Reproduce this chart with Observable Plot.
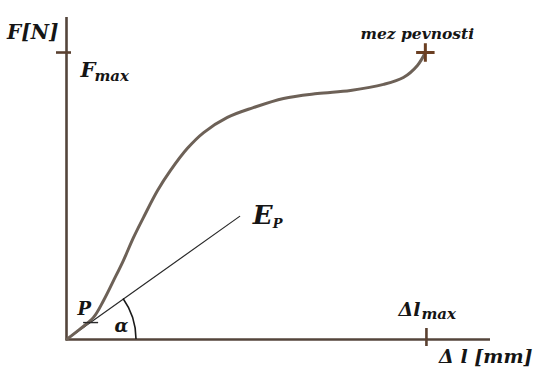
<!DOCTYPE html>
<html>
<head>
<meta charset="utf-8">
<script src="https://cdn.jsdelivr.net/npm/d3@7"></script>
<script src="https://cdn.jsdelivr.net/npm/@observablehq/plot@0.6"></script>
<style>
  html, body { margin: 0; padding: 0; background: #fff; }
  #chart svg { display: block; }
  #chart svg text { font-family: "DejaVu Serif", serif !important; font-weight: bold; font-style: italic; }
</style>
</head>
<body>
<div id="chart"></div>
<script>
// Force–elongation curve (units: Δl_max = 10, F_max = 10)
const curveDl = [0, 0.39, 0.75, 1.03, 1.31, 1.58, 1.86, 2.17, 2.53, 2.89, 3.36, 3.81, 4.47, 5.19, 6.03, 6.97, 7.89, 8.81, 9.36, 9.75, 9.97];
const curveF  = [0, 0.38, 0.77, 1.36, 2.06, 2.75, 3.55, 4.33, 5.19, 5.89, 6.66, 7.21, 7.74, 8.08, 8.40, 8.57, 8.68, 8.89, 9.13, 9.55, 10.0];
// Elastic modulus line E_P
const epDl = [0, 4.81];
const epF  = [0, 4.29];
// Key values
const fMax = 10;
const dlMax = 10;
const pPoint = { dl: 0.67, f: 0.59 };
const xExtent = [0, 11.78];
const yExtent = [0, 11.22];
// Labels
const labelAxisY = "F[N]";
const labelAxisX = "Δ l [mm]";
const labelFmax = ["F", "max"];
const labelDlmax = ["Δl", "max"];
const labelEp = ["E", "P"];
const labelBreak = "mez pevnosti";
const labelP = "P";
const labelAlpha = "α";

const curve = curveDl.map((d, i) => ({ dl: d, f: curveF[i] }));
const ep = epDl.map((d, i) => ({ dl: d, f: epF[i] }));
const last = curve[curve.length - 1];
const epEnd = ep[ep.length - 1];

const font = "DejaVu Serif";
const txt = (extra) => Object.assign({ fontFamily: font, fontWeight: "bold", fontStyle: "italic", fill: "#151515" }, extra);

const arcMark = (index, scales) => {
  const cx = scales.x(0), cy = scales.y(0);
  const ex = scales.x(epEnd.dl), ey = scales.y(epEnd.f);
  const th = Math.atan2(cy - ey, ex - cx);
  const r = 70;
  const path = document.createElementNS("http://www.w3.org/2000/svg", "path");
  path.setAttribute("d", `M${cx + r},${cy} A${r},${r} 0 0 0 ${cx + r * Math.cos(th)},${cy - r * Math.sin(th)}`);
  path.setAttribute("fill", "none");
  path.setAttribute("stroke", "#1a1a1a");
  path.setAttribute("stroke-width", 1.6);
  return path;
};

const chart = Plot.plot({
  width: 533,
  height: 367,
  marginLeft: 66,
  marginRight: 43,
  marginTop: 17,
  marginBottom: 28,
  x: { domain: xExtent, axis: null },
  y: { domain: yExtent, axis: null },
  marks: [
    Plot.ruleX([0], { stroke: "#54453b", strokeWidth: 2.6 }),
    Plot.ruleY([0], { stroke: "#54453b", strokeWidth: 2.6 }),
    Plot.ruleY([fMax], { x1: 0, x2: 0, insetLeft: -10, insetRight: -5, stroke: "#5a4030", strokeWidth: 2.6 }),
    Plot.ruleX([dlMax], { y1: 0, y2: 0, insetTop: -11, insetBottom: -7, stroke: "#5a4030", strokeWidth: 2.6 }),
    Plot.line(ep, { x: "dl", y: "f", stroke: "#2a2a2a", strokeWidth: 1.2 }),
    arcMark,
    Plot.line(curve, { x: "dl", y: "f", curve: "catmull-rom", stroke: "#6d6157", strokeWidth: 3 }),
    Plot.ruleY([pPoint.f], { x1: pPoint.dl, x2: pPoint.dl, insetLeft: -7, insetRight: -8, stroke: "#2a2a2a", strokeWidth: 1.4 }),
    Plot.dot([last], { x: "dl", y: "f", symbol: "plus", r: 6, stroke: "#6b3f22", strokeWidth: 3 }),
    Plot.text([labelAxisY], txt({ x: 0, y: yExtent[1], text: d => d, textAnchor: "end", dx: -8, dy: 15, fontSize: 20 })),
    Plot.text([labelFmax[0]], txt({ x: 0, y: fMax, text: d => d, textAnchor: "start", dx: 14, dy: 18, fontSize: 21 })),
    Plot.text([labelFmax[1]], txt({ x: 0, y: fMax, text: d => d, textAnchor: "start", dx: 28, dy: 24, fontSize: 15 })),
    Plot.text([labelBreak], txt({ x: last.dl, y: last.f, text: d => d, textAnchor: "middle", dx: -8, dy: -18, fontSize: 15.5 })),
    Plot.text([labelEp[0]], txt({ x: epEnd.dl, y: epEnd.f, text: d => d, textAnchor: "start", dx: 13, dy: -1, fontSize: 26 })),
    Plot.text([labelEp[1]], txt({ x: epEnd.dl, y: epEnd.f, text: d => d, textAnchor: "start", dx: 33, dy: 7.5, fontSize: 13 })),
    Plot.text([labelP], txt({ x: pPoint.dl, y: pPoint.f, text: d => d, textAnchor: "start", dx: -13, dy: -13.5, fontSize: 18 })),
    Plot.text([labelAlpha], txt({ x: 0, y: 0, text: d => d, textAnchor: "middle", dx: 55, dy: -13.5, fontSize: 18 })),
    Plot.text([labelDlmax[0]], txt({ x: dlMax, y: 0, text: d => d, textAnchor: "start", dx: -28, dy: -30, fontSize: 19 })),
    Plot.text([labelDlmax[1]], txt({ x: dlMax, y: 0, text: d => d, textAnchor: "start", dx: -5, dy: -25, fontSize: 15 })),
    Plot.text([labelAxisX], txt({ x: xExtent[1], y: 0, text: d => d, textAnchor: "end", dx: 42, dy: 17, fontSize: 19 }))
  ]
});
document.getElementById("chart").appendChild(chart);
</script>
</body>
</html>
